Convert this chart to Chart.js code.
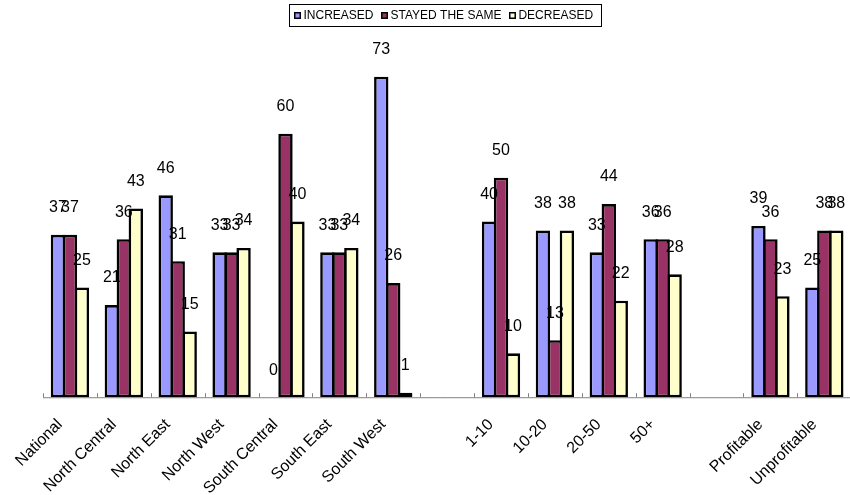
<!DOCTYPE html>
<html>
<head>
<meta charset="utf-8">
<script src="https://cdn.jsdelivr.net/npm/chart.js@4/dist/chart.umd.min.js"></script>
<style>
  html, body { margin: 0; padding: 0; background: #fff; overflow: hidden; }
  #wrap { position: relative; width: 856px; height: 516px; }
</style>
</head>
<body>
<div id="wrap"><canvas id="c" width="856" height="516"></canvas></div>
<script>
// Categories (empty strings keep the spacing between the three groups)
const categories = [
  'National', 'North Central', 'North East', 'North West', 'South Central',
  'South East', 'South West', '', '1-10', '10-20', '20-50', '50+', '',
  'Profitable', 'Unprofitable'
];
const increased = [37, 21, 46, 33, 0, 33, 73, null, 40, 38, 33, 36, null, 39, 25];
const stayedSame = [37, 36, 31, 33, 60, 33, 26, null, 50, 13, 44, 36, null, 36, 38];
const decreased = [25, 43, 15, 34, 40, 34, 1, null, 10, 38, 22, 28, null, 23, 38];
const seriesNames = ['INCREASED', 'STAYED THE SAME', 'DECREASED'];

const FONT = '"Liberation Sans", Arial, Helvetica, sans-serif';

// Writes each bar's value above it
const valueLabels = {
  id: 'valueLabels',
  afterDatasetsDraw(chart) {
    const ctx = chart.ctx;
    ctx.save();
    ctx.font = '16px ' + FONT;
    ctx.fillStyle = '#000';
    ctx.textAlign = 'center';
    ctx.textBaseline = 'middle';
    chart.data.datasets.forEach((ds, di) => {
      const meta = chart.getDatasetMeta(di);
      meta.data.forEach((bar, i) => {
        const v = ds.data[i];
        if (v === null || v === undefined) return;
        ctx.fillText(String(v), bar.x, bar.y - 27);
      });
    });
    ctx.restore();
  }
};

// Axis line with small inward tick marks between categories
const axisDecor = {
  id: 'axisDecor',
  afterDraw(chart) {
    const ctx = chart.ctx;
    const x = chart.scales.x;
    const area = chart.chartArea;
    const n = chart.data.labels.length;
    const step = x.getPixelForValue(1) - x.getPixelForValue(0);
    ctx.save();
    ctx.strokeStyle = '#808080';
    ctx.lineWidth = 1;
    ctx.beginPath();
    ctx.moveTo(area.left, area.bottom + 0.5);
    ctx.lineTo(area.right, area.bottom + 0.5);
    for (let i = 0; i <= n; i++) {
      const px = Math.round(x.getPixelForValue(i) - step / 2) + 0.5;
      ctx.moveTo(px, area.bottom - 4);
      ctx.lineTo(px, area.bottom);
    }
    ctx.stroke();
    ctx.restore();
  }
};

// Framed legend in one row, centred over the plot area
const boxLegend = {
  id: 'boxLegend',
  afterDraw(chart) {
    const ctx = chart.ctx;
    const area = chart.chartArea;
    ctx.save();
    ctx.font = '12px ' + FONT;
    const box = 7, gapText = 2.5, gapItem = 7.5, padL = 5, padR = 8;
    const items = chart.data.datasets.map(ds => ({
      text: ds.label, color: ds.backgroundColor, w: ctx.measureText(ds.label).width
    }));
    let total = 0;
    items.forEach((it, i) => { total += box + gapText + it.w + (i < items.length - 1 ? gapItem : 0); });
    const frameW = Math.round(total + padL + padR), frameH = 22, top = 4;
    const left = Math.round((area.left + area.right) / 2 - 2 - frameW / 2);
    ctx.strokeStyle = '#000';
    ctx.lineWidth = 1;
    ctx.strokeRect(left + 0.5, top + 0.5, frameW, frameH);
    const cy = top + 11;
    let x = left + padL;
    ctx.textBaseline = 'middle';
    ctx.textAlign = 'left';
    items.forEach(it => {
      const bx = Math.round(x), by = Math.round(cy - box / 2);
      ctx.fillStyle = it.color;
      ctx.fillRect(bx, by, box, box);
      ctx.lineWidth = 1.5;
      ctx.strokeRect(bx + 0.75, by + 0.75, box - 1.5, box - 1.5);
      ctx.lineWidth = 1;
      x += box + gapText;
      ctx.fillStyle = '#000';
      ctx.fillText(it.text, x, cy + 0.5);
      x += it.w + gapItem;
    });
    ctx.restore();
  }
};

const colors = ['#9999FF', '#993366', '#FFFFCC'];
const values = [increased, stayedSame, decreased];

new Chart(document.getElementById('c'), {
  type: 'bar',
  data: {
    labels: categories,
    datasets: values.map((vals, k) => ({
      label: seriesNames[k],
      data: vals,
      backgroundColor: colors[k],
      borderColor: '#000',
      borderWidth: 2.6,
      borderSkipped: false,
      barPercentage: 1.2,
      categoryPercentage: 0.667
    }))
  },
  options: {
    responsive: false,
    animation: false,
    events: [],
    layout: { padding: { left: 43, right: 3, top: 46, bottom: 0 } },
    plugins: {
      legend: { display: false },
      tooltip: { enabled: false }
    },
    scales: {
      x: {
        grid: { display: false, drawTicks: false },
        border: { display: false },
        ticks: {
          autoSkip: false,
          maxRotation: 45,
          minRotation: 45,
          padding: 18,
          labelOffset: -10,
          color: '#000',
          font: { family: FONT, size: 16 }
        }
      },
      y: {
        display: false,
        min: 0,
        max: 80
      }
    }
  },
  plugins: [valueLabels, axisDecor, boxLegend]
});
</script>
</body>
</html>
